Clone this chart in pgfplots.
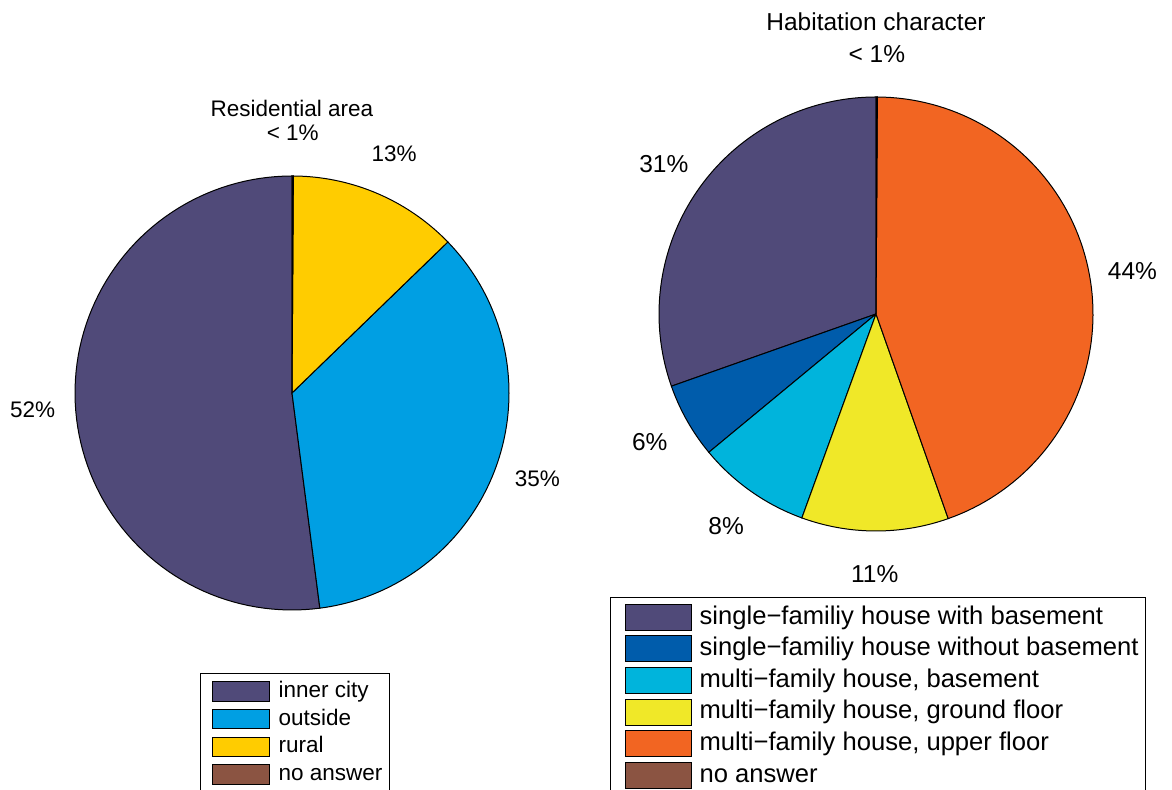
\documentclass[border=0pt]{standalone}
\usepackage{fontspec}
\setmainfont{Liberation Sans}
\usepackage{pgfplots}
\pgfplotsset{compat=1.18}
\definecolor{cPurple}{RGB}{80,74,121}
\definecolor{cSky}{RGB}{0,159,227}
\definecolor{cGold}{RGB}{255,204,0}
\definecolor{cBrown}{RGB}{139,84,66}
\definecolor{cNavy}{RGB}{0,92,171}
\definecolor{cCyan}{RGB}{0,180,220}
\definecolor{cYellow}{RGB}{240,232,40}
\definecolor{cOrange}{RGB}{242,101,34}
\tikzset{lblL/.style={font=\fontsize{11.25}{13}\selectfont, inner sep=0pt},
         lblR/.style={font=\fontsize{12.25}{14}\selectfont, inner sep=0pt}}
% #1 cx, #2 cy, #3 percent, #4 colour, #5 label text, #6 label style
\newcommand\pieslice[6]{%
  \pgfmathsetmacro\sa{90+3.6*\cum}%
  \pgfmathsetmacro\sb{90+3.6*(\cum+#3)}%
  \pgfmathsetmacro\sm{(\sa+\sb)/2}%
  \pgfmathsetmacro\lx{#1+260*cos(\sm)}%
  \pgfmathsetmacro\ly{#2+260*sin(\sm)}%
  \edef\doit{\noexpand\addplot[fill=#4, draw=black, line width=0.5pt, domain=\sa:\sb, samples=90, variable=\noexpand\t]
    ({#1+217*cos(\noexpand\t)},{#2+217*sin(\noexpand\t)}) -- (axis cs:#1,#2) -- cycle;
    \noexpand\node[#6] at (axis cs:\lx,\ly) {#5};}%
  \doit
  \pgfmathsetmacro\cum{\cum+#3}%
}
\begin{document}
\begin{tikzpicture}
\begin{axis}[x=0.5pt, y=0.5pt, xmin=0, xmax=1172, ymin=0, ymax=790,
  hide axis, clip=false, at={(0,0)}, anchor=south west,
  legend entries={inner city, outside, rural, no answer},
  legend cell align=left,
  legend image code/.code={\path (0pt,0pt) (35pt,0pt);\draw[#1, draw=black, line width=0.5pt] (5pt,-4.9pt) rectangle (33.5pt,4.9pt);},
  legend style={at={(0.1706,0.1481)}, anchor=north west, draw=black, line width=0.6pt,
    font=\fontsize{11.25}{13}\selectfont, row sep=0pt, inner xsep=0.5pt, inner ysep=2pt,
    nodes={inner xsep=3pt, inner ysep=1pt, text height=9pt, text depth=2.85pt}}]
\def\cum{0}
\pieslice{292}{397}{52.05}{cPurple}{52\%}{lblL}
\pieslice{292}{397}{35.2}{cSky}{35\%}{lblL}
\pieslice{292}{397}{12.65}{cGold}{13\%}{lblL}
\pieslice{292}{397}{0.1}{cBrown}{< 1\%}{lblL}
\node[lblL] at (axis cs:292,682) {Residential area};
\end{axis}
\begin{axis}[x=0.5pt, y=0.5pt, xmin=0, xmax=1172, ymin=0, ymax=790,
  hide axis, clip=false, at={(0,0)}, anchor=south west,
  legend entries={single−familiy house with basement, single−familiy house without basement,
    {multi−family house, basement}, {multi−family house, ground floor}, {multi−family house, upper floor}, no answer},
  legend cell align=left,
  legend image code/.code={\path (0pt,0pt) (40.5pt,0pt);\draw[#1, draw=black, line width=0.5pt] (6.5pt,-6.5pt) rectangle (39.5pt,6.5pt);},
  legend style={at={(0.5205,0.2443)}, anchor=north west, draw=black, line width=0.6pt,
    font=\fontsize{12.8}{15}\selectfont, row sep=0pt, inner xsep=0.5pt, inner ysep=2pt,
    nodes={inner xsep=3pt, inner ysep=1pt, text height=10.3pt, text depth=3.5pt}}]
\def\cum{0}
\pieslice{876}{476}{30.4}{cPurple}{31\%}{lblR}
\pieslice{876}{476}{5.6}{cNavy}{6\%}{lblR}
\pieslice{876}{476}{8.45}{cCyan}{8\%}{lblR}
\pieslice{876}{476}{10.95}{cYellow}{11\%}{lblR}
\pieslice{876}{476}{44.5}{cOrange}{44\%}{lblR}
\pieslice{876}{476}{0.1}{cBrown}{< 1\%}{lblR}
\node[lblR] at (axis cs:876,768) {Habitation character};
\end{axis}
\pgfresetboundingbox
\path[use as bounding box] (0,0) rectangle (586pt,395pt);
\end{tikzpicture}
\end{document}
